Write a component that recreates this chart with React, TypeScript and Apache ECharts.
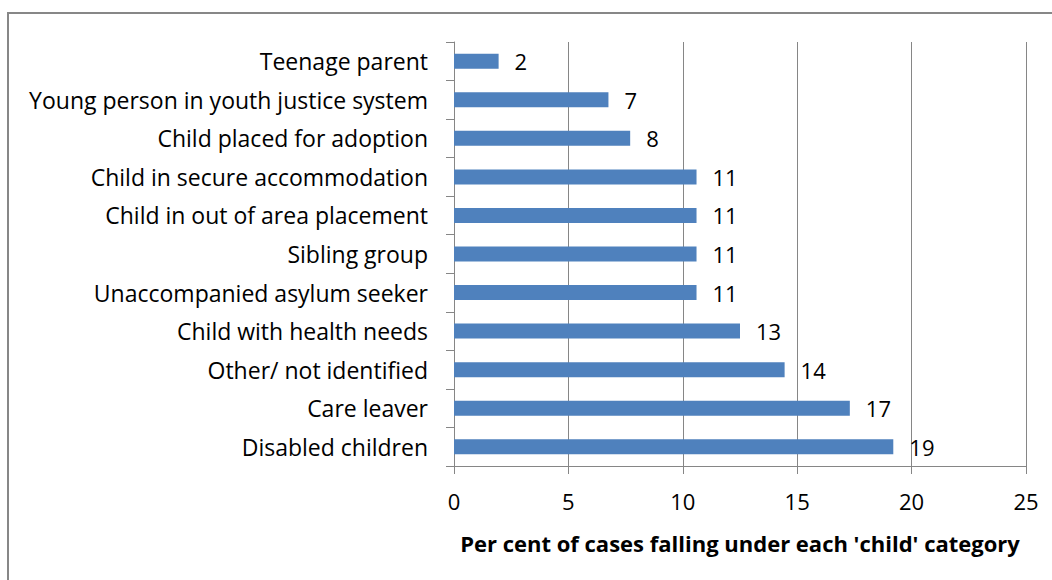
import React, { useEffect, useRef } from "react";
import * as echarts from "echarts";

const categories = [
  "Disabled children",
  "Care leaver",
  "Other/ not identified",
  "Child with health needs",
  "Unaccompanied asylum seeker",
  "Sibling group",
  "Child in out of area placement",
  "Child in secure accommodation",
  "Child placed for adoption",
  "Young person in youth justice system",
  "Teenage parent",
];
const values = [19.2, 17.3, 14.45, 12.5, 10.6, 10.6, 10.6, 10.6, 7.7, 6.75, 1.95];
const valueLabels = ["19", "17", "14", "13", "11", "11", "11", "11", "8", "7", "2"];
const xTicks = [0, 5, 10, 15, 20, 25];
const axisTitle = "Per cent of cases falling under each 'child' category";

const FONT = "'Open Sans', 'Noto Sans', sans-serif";

export default function App() {
  const ref = useRef<HTMLDivElement>(null);
  useEffect(() => {
    document.body.style.margin = "0";
    const chart = echarts.init(ref.current!, null, { renderer: "svg" });
    chart.setOption({
      animation: false,
      backgroundColor: "#ffffff",
      textStyle: { fontFamily: FONT },
      graphic: [
        {
          type: "rect",
          shape: { x: 8, y: 13, width: 1200, height: 700 },
          style: { fill: "none", stroke: "#878787", lineWidth: 2 },
          silent: true,
        },
      ],
      grid: { left: 454, top: 42, right: 26, bottom: 114, containLabel: false },
      xAxis: {
        type: "value",
        min: xTicks[0],
        max: xTicks[xTicks.length - 1],
        interval: 5,
        name: axisTitle,
        nameLocation: "middle",
        nameGap: 66,
        nameTextStyle: { fontSize: 22, fontWeight: "bold", color: "#000", fontFamily: FONT },
        axisLine: { show: true, lineStyle: { color: "#868686", width: 1 } },
        axisTick: { show: true, length: 8, lineStyle: { color: "#868686" } },
        axisLabel: { fontSize: 22, color: "#000", margin: 24, fontFamily: FONT },
        splitLine: { show: true, lineStyle: { color: "#868686", width: 1 } },
      },
      yAxis: {
        type: "category",
        data: categories,
        axisLine: { show: true, lineStyle: { color: "#868686", width: 1 } },
        axisTick: { show: true, length: 8, lineStyle: { color: "#868686" } },
        axisLabel: { fontSize: 23, color: "#000", margin: 26, fontFamily: FONT },
        splitLine: { show: false },
      },
      series: [
        {
          type: "bar",
          data: values,
          barWidth: 15,
          itemStyle: { color: "#4F81BD" },
          label: {
            show: true,
            position: "right",
            distance: 16,
            fontSize: 22,
            color: "#000",
            fontFamily: FONT,
            formatter: (p: any) => valueLabels[p.dataIndex],
          },
        },
      ],
    });
    return () => chart.dispose();
  }, []);
  return (
    <div
      ref={ref}
      style={{ position: "absolute", left: 0, top: 0, width: 1052, height: 580 }}
    />
  );
}
